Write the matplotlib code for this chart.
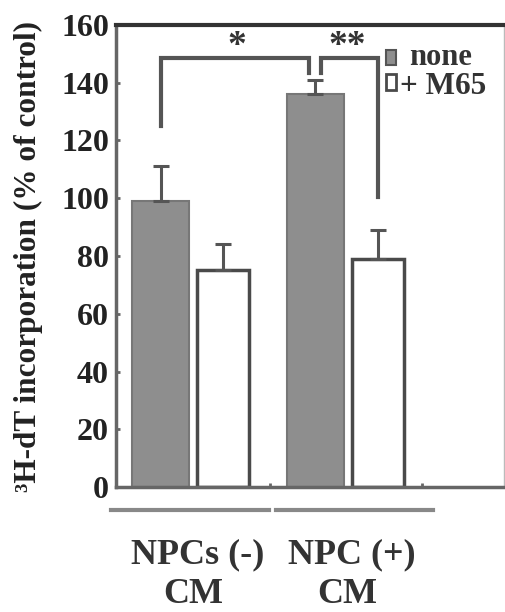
import matplotlib
matplotlib.use("Agg")
import matplotlib.pyplot as plt
from matplotlib.patches import Rectangle

groups = ["NPCs (-)", "NPC (+)"]
group_sub = ["CM", "CM"]
series = ["none", "+ M65"]
none_vals = [99, 136]
none_err = [12, 5]
m65_vals = [75, 79]
m65_err = [9, 10]
yticks = [0, 20, 40, 60, 80, 100, 120, 140, 160]

plt.rcParams['font.family'] = ['Liberation Serif', 'DejaVu Serif']
plt.rcParams['font.weight'] = 'bold'

fig = plt.figure(figsize=(5.05, 6.12), dpi=100)
ax = fig.add_axes([0.2297, 0.2042, 0.768, 0.755])

gc = [0.0, 2.58]
off = 0.52
gray = '#8e8e8e'
edge = '#4a4a4a'
x1 = [g - off for g in gc]
x2 = [g + off for g in gc]
ax.bar(x1, none_vals, width=0.95, color=gray, edgecolor='#777777', linewidth=1.5, zorder=2)
ax.bar(x2, m65_vals, width=0.87, color='white', edgecolor=edge, linewidth=2.5, zorder=2)
ax.errorbar(x1, none_vals, yerr=[[0, 0], none_err], fmt='none', ecolor='#555555', elinewidth=2.2, capsize=5.5, capthick=2.2, zorder=3)
ax.errorbar(x2, m65_vals, yerr=[[0, 0], m65_err], fmt='none', ecolor='#555555', elinewidth=2.2, capsize=5.5, capthick=2.2, zorder=3)

ax.set_xlim(-1.27, 5.21)
ax.set_ylim(0, 160)
ax.set_yticks(yticks)
ax.set_yticklabels([str(t) for t in yticks], fontsize=23, fontweight='bold', color='#222222')
ax.tick_params(axis='y', direction='in', length=3, width=2, color='#666666', pad=5)
ax.set_xticks([1.30, 3.85])
ax.set_xticklabels(['', ''])
ax.tick_params(axis='x', direction='in', length=3, width=2, color='#666666')

for s in ['left', 'bottom']:
    ax.spines[s].set_linewidth(2.5)
    ax.spines[s].set_color('#666666')
ax.spines['top'].set_linewidth(3)
ax.spines['top'].set_color('#333333')
ax.spines['right'].set_linewidth(1)
ax.spines['right'].set_color('#bbbbbb')

# significance brackets
bc = '#555555'
lw = 3
ax.plot([x1[0], x1[0], x1[1] - 0.1, x1[1] - 0.1], [125, 148.6, 148.6, 143.4], color=bc, lw=lw, solid_joinstyle='miter', zorder=4)
ax.plot([x1[1] + 0.1, x1[1] + 0.1, x2[1], x2[1]], [143.4, 148.6, 148.6, 100.5], color=bc, lw=lw, solid_joinstyle='miter', zorder=4)
ax.text(0.75, 152.5, '*', fontsize=27, ha='center', va='center', color='#333333')
ax.text(2.60, 152.5, '**', fontsize=27, ha='center', va='center', color='#333333')

# group underlines
ax.plot([-1.35, 1.28], [-8, -8], color='#888888', lw=3, clip_on=False)
ax.plot([1.41, 4.03], [-8, -8], color='#888888', lw=3, clip_on=False)

# group labels (two lines each)
line1_x = [198 / 505, 352 / 505]
line2_x = [193 / 505, 347 / 505]
for i in range(2):
    fig.text(line1_x[i], 1 - 563 / 612, groups[i], fontsize=26, ha='center', va='baseline', color='#333333')
    fig.text(line2_x[i], 1 - 603 / 612, group_sub[i], fontsize=26, ha='center', va='baseline', color='#333333')

fig.text(28 / 505, 1 - 256 / 612, '³H-dT incorporation (% of control)', rotation=90, fontsize=22.5,
         fontweight='bold', color='#222222', ha='center', va='center')

# legend
ax.add_patch(Rectangle((0.697, 0.913), 0.025, 0.033, transform=ax.transAxes, facecolor=gray, edgecolor='#555555', lw=1.5, clip_on=False))
ax.add_patch(Rectangle((0.697, 0.859), 0.025, 0.035, transform=ax.transAxes, facecolor='white', edgecolor=edge, lw=2, clip_on=False))
ax.text(0.756, 0.913, series[0], transform=ax.transAxes, fontsize=22, ha='left', va='baseline', color='#333333')
ax.text(0.732, 0.850, series[1], transform=ax.transAxes, fontsize=22.5, ha='left', va='baseline', color='#333333')

fig.savefig('out.png', dpi=100)
